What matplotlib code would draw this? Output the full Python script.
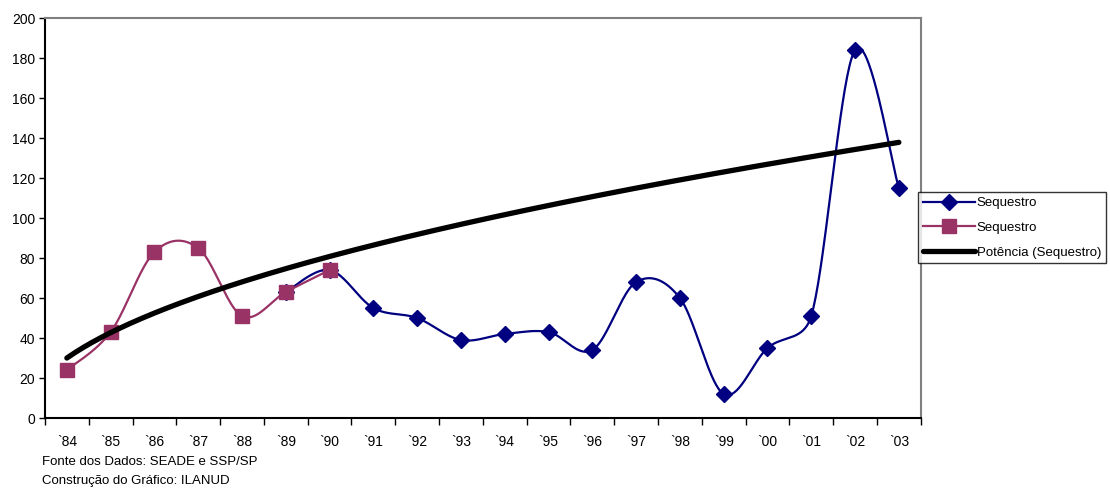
import numpy as np
import matplotlib
matplotlib.use("Agg")
import matplotlib.pyplot as plt
from matplotlib.lines import Line2D

plt.rcParams['font.family'] = ['Liberation Sans', 'DejaVu Sans']

# anos 1984-2003, rotulos no estilo `84
years = ["`84", "`85", "`86", "`87", "`88", "`89", "`90", "`91", "`92", "`93",
         "`94", "`95", "`96", "`97", "`98", "`99", "`00", "`01", "`02", "`03"]

# serie antiga (84-90) e serie nova (89-03)
old_idx = [1, 2, 3, 4, 5, 6, 7]
old_vals = [24, 43, 83, 85, 51, 63, 74]
new_idx = [6, 7, 8, 9, 10, 11, 12, 13, 14, 15, 16, 17, 18, 19, 20]
new_vals = [63, 74, 55, 50, 39, 42, 43, 34, 68, 60, 12, 35, 51, 184, 115]

# linha de tendencia de potencia y = a * x^b
trend_a = 30.0
trend_b = 0.509

# escala aproximada em pixels (uma categoria, uma unidade de y)
PX_X = 43.8
PX_Y = 2.0


def smooth(x, y, n=40):
    # linha suavizada tipo Excel: bezier com tangentes limitadas
    p = np.column_stack([np.asarray(x) * PX_X, np.asarray(y) * PX_Y]).astype(float)
    p = np.vstack([p[0], p, p[-1]])
    out = []
    t = np.linspace(0, 1, n)[:, None]
    for i in range(1, len(p) - 2):
        p0, p1, p2, p3 = p[i - 1], p[i], p[i + 1], p[i + 2]
        d12 = np.hypot(*(p2 - p1))
        d02 = np.hypot(*(p2 - p0))
        d13 = np.hypot(*(p3 - p1))
        f0 = 1 / 6 if d02 / 6 < d12 / 2 else d12 / (2 * d02)
        f1 = 1 / 6 if d13 / 6 < d12 / 2 else d12 / (2 * d13)
        c1 = p1 + (p2 - p0) * f0
        c2 = p2 - (p3 - p1) * f1
        seg = ((1 - t) ** 3) * p1 + 3 * ((1 - t) ** 2) * t * c1 + 3 * (1 - t) * t ** 2 * c2 + t ** 3 * p2
        out.append(seg if i == 1 else seg[1:])
    out = np.vstack(out)
    return out[:, 0] / PX_X, out[:, 1] / PX_Y


blue = "#000080"
plum = "#993366"

fig = plt.figure(figsize=(11.1, 4.88), dpi=100)
ax = fig.add_axes([0.0405, 0.1434, 0.789, 0.8197])

sx, sy = smooth(new_idx, new_vals)
ax.plot(sx, sy, color=blue, lw=1.6, zorder=2)
ax.plot(new_idx, new_vals, ls="none", marker="D", ms=8, color=blue, zorder=3)

sx, sy = smooth(old_idx, old_vals)
ax.plot(sx, sy, color=plum, lw=1.6, zorder=4)
ax.plot(old_idx, old_vals, ls="none", marker="s", ms=10, color=plum, zorder=5)

tx = np.linspace(1, 20, 200)
ax.plot(tx, trend_a * tx ** trend_b, color="black", lw=3.8, solid_capstyle="round", zorder=6)

ax.set_xlim(0.5, 20.5)
ax.set_ylim(0, 200)
ax.set_yticks(np.arange(0, 201, 20))
ax.set_xticks(np.arange(0.5, 21, 1))
ax.set_xticklabels([])
ax.set_xticks(np.arange(1, 21), minor=True)
ax.set_xticklabels(years, minor=True)
ax.tick_params(axis="x", which="major", direction="out", length=5, width=1)
ax.tick_params(axis="x", which="minor", length=0, pad=12, labelsize=10)
ax.tick_params(axis="y", direction="out", length=4, width=1, labelsize=10, pad=3)

for s in ["left", "bottom"]:
    ax.spines[s].set_color("black")
    ax.spines[s].set_linewidth(1.5)
for s in ["top", "right"]:
    ax.spines[s].set_color("#808080")
    ax.spines[s].set_linewidth(1.5)

handles = [
    Line2D([], [], color=blue, lw=1.6, marker="D", ms=8),
    Line2D([], [], color=plum, lw=1.6, marker="s", ms=10),
    Line2D([], [], color="black", lw=3.8, solid_capstyle="round"),
]
labels = ["Sequestro", "Sequestro", "Potência (Sequestro)"]
leg = fig.legend(handles, labels, loc="center left", bbox_to_anchor=(0.827, 0.533),
                 fontsize=9.5, handlelength=4.0, handletextpad=0.1, borderpad=0.35,
                 labelspacing=0.95, frameon=True, fancybox=False, borderaxespad=0)
leg.get_frame().set_edgecolor("black")
leg.get_frame().set_linewidth(1)

fig.text(0.038, 0.042, "Fonte dos Dados: SEADE e SSP/SP", fontsize=9.5, va="bottom")
fig.text(0.038, 0.003, "Construção do Gráfico: ILANUD", fontsize=9.5, va="bottom")

fig.savefig("out.png", dpi=100)
